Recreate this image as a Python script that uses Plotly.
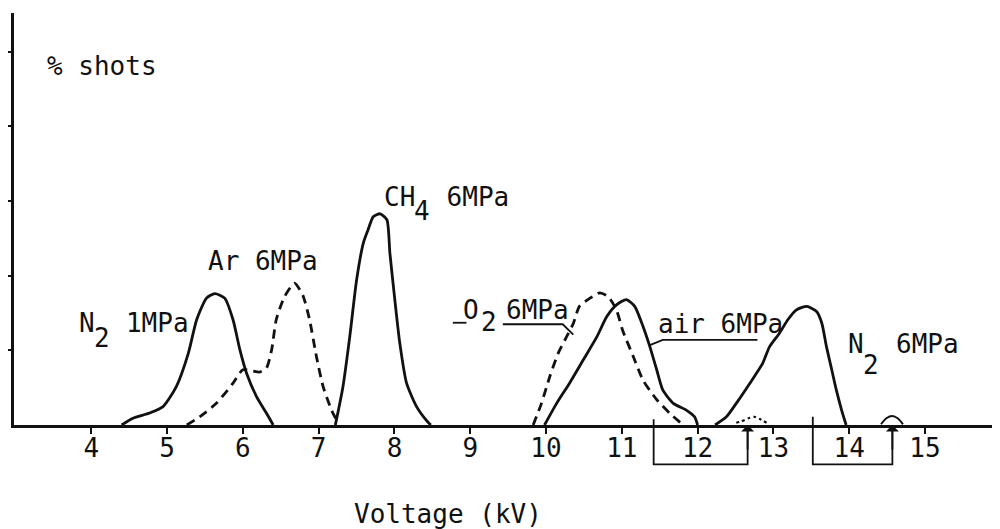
import plotly.graph_objects as go

# ---------------- data ----------------
kv_ticks = [4, 5, 6, 7, 8, 9, 10, 11, 12, 13, 14, 15]
kv_tick_labels = ["4", "5", "6", "7", "8", "9", "10", "11", "12", "13", "14", "15"]
pct_ticks = [10, 20, 30, 40, 50]

n2_1mpa_kv = [4.40, 4.55, 4.77, 4.95, 5.12, 5.28, 5.39, 5.52, 5.63, 5.76, 5.87, 5.96, 6.05, 6.18, 6.31, 6.40]
n2_1mpa_pct = [0, 0.9, 1.6, 2.5, 5.1, 9.6, 14.1, 17.0, 17.6, 17.0, 14.1, 10.1, 6.9, 3.8, 1.6, 0]

ar_6mpa_kv = [5.26, 5.43, 5.65, 5.87, 6.00, 6.22, 6.31, 6.38, 6.44, 6.55, 6.68, 6.79, 6.88, 6.97, 7.06, 7.17, 7.26]
ar_6mpa_pct = [0, 1.1, 2.9, 5.6, 7.4, 7.1, 7.6, 10.1, 14.1, 17.2, 19.0, 17.4, 14.1, 9.2, 5.1, 2.0, 0.2]

ch4_6mpa_kv = [7.22, 7.32, 7.41, 7.50, 7.59, 7.65, 7.72, 7.81, 7.90, 7.94, 8.01, 8.07, 8.16, 8.29, 8.44, 8.48]
ch4_6mpa_pct = [0, 5.1, 11.8, 19.4, 24.4, 26.1, 27.9, 28.3, 27.5, 23.0, 16.3, 11.0, 5.6, 2.5, 0.4, 0]

o2_6mpa_kv = [9.83, 9.94, 10.05, 10.16, 10.27, 10.36, 10.44, 10.58, 10.71, 10.82, 10.93, 11.01, 11.15, 11.28, 11.46, 11.63, 11.81]
o2_6mpa_pct = [0, 2.9, 6.5, 9.6, 11.8, 13.6, 15.9, 17.0, 17.7, 17.2, 15.4, 12.7, 9.2, 6.0, 3.4, 1.6, 0]

air_6mpa_kv = [9.98, 10.14, 10.31, 10.49, 10.67, 10.80, 10.93, 11.06, 11.17, 11.28, 11.37, 11.46, 11.54, 11.68, 11.85, 11.96, 12.00]
air_6mpa_pct = [0, 2.9, 5.6, 8.7, 11.8, 14.5, 16.1, 16.8, 15.9, 13.2, 10.5, 7.4, 4.7, 2.9, 2.0, 1.1, 0]

n2_6mpa_kv = [12.23, 12.38, 12.51, 12.69, 12.86, 12.95, 13.08, 13.19, 13.30, 13.44, 13.57, 13.64, 13.70, 13.77, 13.83, 13.90, 13.96]
n2_6mpa_pct = [0, 1.1, 2.9, 5.6, 8.3, 10.5, 12.3, 14.1, 15.4, 15.9, 15.2, 13.6, 10.5, 7.4, 4.7, 2.0, 0]

small_bump_kv = [14.42, 14.49, 14.57, 14.64, 14.71]
small_bump_pct = [0.1, 0.9, 1.2, 0.9, 0.1]

dotted_bump_kv = [12.51, 12.58, 12.67, 12.75, 12.82, 12.91]
dotted_bump_pct = [0.3, 0.5, 0.9, 1.1, 0.8, 0.3]

# ---------------- figure ----------------
FONT = "DejaVu Sans Mono"
INK = "#111111"

fig = go.Figure()

def curve(x, y, dash="solid", width=2.8):
    fig.add_trace(go.Scatter(
        x=x, y=y, mode="lines",
        line=dict(color=INK, width=width, dash=dash, shape="spline", smoothing=0.6),
        showlegend=False, hoverinfo="skip"))

curve(n2_1mpa_kv, n2_1mpa_pct)
curve(ar_6mpa_kv, ar_6mpa_pct, dash="9px,6px")
curve(ch4_6mpa_kv, ch4_6mpa_pct)
curve(o2_6mpa_kv, o2_6mpa_pct, dash="9px,6px")
curve(air_6mpa_kv, air_6mpa_pct)
curve(n2_6mpa_kv, n2_6mpa_pct)
curve(small_bump_kv, small_bump_pct, width=2)
curve(dotted_bump_kv, dotted_bump_pct, dash="dot", width=2.2)

annotations = []

def label(text, x, y, size=26):
    annotations.append(dict(text=text, x=x, y=y, xref="x", yref="y", xanchor="left", yanchor="middle",
                            showarrow=False, font=dict(family=FONT, size=size, color=INK)))

label("% shots", 3.39, 48.1)
label("N  1MPa", 3.81, 13.7)
label("2", 4.01, 11.7)
label("Ar 6MPa", 5.51, 22.0)
label("CH  6MPa", 7.84, 30.6)
label("4", 8.23, 28.7)
label("O", 8.88, 15.4)
label("2", 9.12, 13.8)
label("6MPa", 9.45, 15.4)
label("air 6MPa", 11.45, 13.5)
label("N", 13.96, 10.9)
label("2", 14.16, 8.0)
label("6MPa", 14.59, 10.9)

# axis title placed as free text (it is not centred on the plot area)
annotations.append(dict(text="Voltage (kV)", x=8.71, y=-0.216, xref="x", yref="paper",
                        xanchor="center", yanchor="middle", showarrow=False,
                        font=dict(family=FONT, size=26, color=INK)))

# upward arrows at the right side of the two boxes
for xa in (12.66, 14.57):
    annotations.append(dict(text="", x=xa, y=0, xref="x", yref="y", ax=0, ay=26, axref="pixel", ayref="pixel",
                            showarrow=True, arrowhead=1, arrowsize=1.2, arrowwidth=1.8, arrowcolor=INK,
                            standoff=0))

shapes = []
# leader lines
shapes.append(dict(type="path", xref="x", yref="y", path="M 8.77,13.7 L 8.95,13.7",
                   line=dict(color=INK, width=1.8)))
shapes.append(dict(type="path", xref="x", yref="y", path="M 9.43,13.5 L 10.22,13.5 L 10.36,12.1",
                   line=dict(color=INK, width=1.8)))
shapes.append(dict(type="path", xref="x", yref="y", path="M 11.37,10.7 L 11.54,11.4 L 12.79,11.4",
                   line=dict(color=INK, width=1.8)))
# boxes beneath the axis (around the 12 and 14 labels)
shapes.append(dict(type="path", xref="x", yref="paper",
                   path="M 11.42,0.014 L 11.42,-0.0954 L 12.66,-0.0954 L 12.66,0",
                   line=dict(color=INK, width=1.8)))
shapes.append(dict(type="path", xref="x", yref="paper",
                   path="M 13.52,0.020 L 13.52,-0.0954 L 14.57,-0.0954 L 14.57,0",
                   line=dict(color=INK, width=1.8)))

# the page body adds an 8 px offset; the figure size and margins absorb it
fig.update_layout(
    width=992, height=521,
    margin=dict(l=6, r=0, t=5, b=104),
    paper_bgcolor="white", plot_bgcolor="white",
    annotations=annotations, shapes=shapes,
    font=dict(family=FONT, size=26, color=INK),
    xaxis=dict(range=[2.98, 15.99], tickmode="array", tickvals=kv_ticks, ticktext=kv_tick_labels,
               showline=True, linecolor=INK, linewidth=2.6, ticks="outside", ticklen=6, tickwidth=2,
               tickcolor=INK, showgrid=False, zeroline=False, ticklabelstandoff=-8,
               tickfont=dict(family=FONT, size=26, color=INK)),
    yaxis=dict(range=[0, 55.2], tickmode="array", tickvals=pct_ticks, showticklabels=False,
               showline=True, linecolor=INK, linewidth=2.6, ticks="outside", ticklen=5, tickwidth=2.2,
               tickcolor=INK, showgrid=False, zeroline=False),
)

fig.write_html("out.html")
